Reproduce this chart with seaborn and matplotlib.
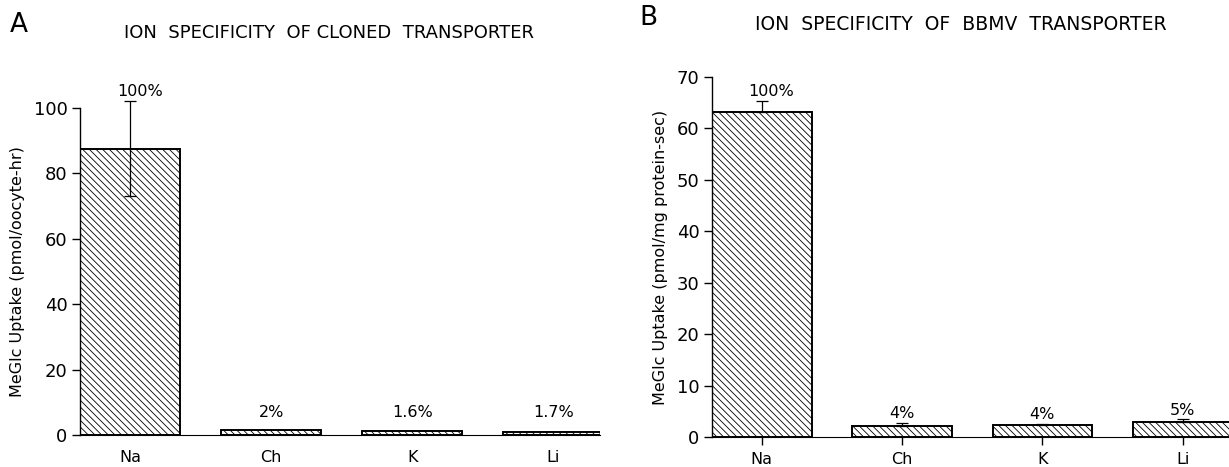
import matplotlib
matplotlib.use("Agg")
import matplotlib.pyplot as plt
import seaborn as sns
import pandas as pd

sns.set_theme(style="white")
plt.rcParams['font.family'] = ['DejaVu Sans']
plt.rcParams['hatch.linewidth'] = 0.6
plt.rcParams['text.color'] = 'black'
plt.rcParams['axes.labelcolor'] = 'black'
plt.rcParams['xtick.color'] = 'black'
plt.rcParams['ytick.color'] = 'black'
plt.rcParams['axes.edgecolor'] = 'black'

ions = ["Na", "Ch", "K", "Li"]
cloned_uptake = [87.5, 1.5, 1.1, 0.9]
cloned_err = [14.5, 0.0, 0.0, 0.0]
cloned_pct = ["100%", "2%", "1.6%", "1.7%"]

bbmv_uptake = [63.2, 2.1, 2.3, 3.0]
bbmv_err = [2.2, 0.7, 0.3, 0.5]
bbmv_pct = ["100%", "4%", "4%", "5%"]

fig = plt.figure(figsize=(12.29, 4.67), dpi=100)
axA = fig.add_axes([0.0651, 0.0685, 0.4231, 0.7002])
axB = fig.add_axes([0.5793, 0.0642, 0.4207, 0.7709])

def draw(ax, vals, errs, pcts, ymax, yticks, ylabel, pct_off, pct_min, lower_err, xticks_on):
    df = pd.DataFrame({"ion": ions, "uptake": vals})
    sns.barplot(data=df, x="ion", y="uptake", ax=ax, color="white", saturation=1,
                edgecolor="black", linewidth=1.4, width=0.71, hatch="\\\\\\\\\\")
    xs = list(range(len(ions)))
    for x, v, e in zip(xs, vals, errs):
        if e > 0:
            lo = e if lower_err else 0
            ax.errorbar([x], [v], yerr=[[lo], [e]], fmt="none", ecolor="black",
                        elinewidth=0.9, capsize=4.5, capthick=0.9, clip_on=False, zorder=5)
    for x, v, e, p in zip(xs, vals, errs, pcts):
        ax.text(x + 0.07 if x == 0 else x, max(v + e + pct_off, pct_min), p,
                ha="center", va="center", fontsize=11.5, clip_on=False)
    ax.set_ylim(0, ymax)
    ax.set_xlim(-0.355, 3.33)
    ax.set_yticks(yticks)
    ax.set_yticklabels([str(t) for t in yticks], fontsize=13)
    ax.set_xlabel("")
    ax.set_ylabel(ylabel, fontsize=11.5, labelpad=6)
    sns.despine(ax=ax)
    ax.spines["left"].set_linewidth(1.0)
    ax.spines["bottom"].set_linewidth(0.8)
    ax.tick_params(axis="y", which="both", left=True, length=6, width=1.0, pad=3, direction="out")
    if xticks_on:
        ax.tick_params(axis="x", bottom=True, length=6, width=1.0, pad=5, direction="out",
                       labelsize=11.5)
    else:
        ax.tick_params(axis="x", bottom=False, length=0, pad=11, labelsize=11.5)
    ax.set_facecolor("white")

draw(axA, cloned_uptake, cloned_err, cloned_pct, 100, [0, 20, 40, 60, 80, 100],
     "MeGlc Uptake (pmol/oocyte-hr)", 3.0, 7.0, True, False)
draw(axB, bbmv_uptake, bbmv_err, bbmv_pct, 70, [0, 10, 20, 30, 40, 50, 60, 70],
     "MeGlc Uptake (pmol/mg protein-sec)", 1.7, 0.0, False, True)

fig.text(19 / 1229, 1 - 25 / 467, "A", fontsize=19, ha="center", va="center")
fig.text(329 / 1229, 1 - 33 / 467, "ION  SPECIFICITY  OF CLONED  TRANSPORTER",
         fontsize=13, ha="center", va="center")
fig.text(648 / 1229, 1 - 18 / 467, "B", fontsize=19, ha="center", va="center")
fig.text(961 / 1229, 1 - 25 / 467, "ION  SPECIFICITY  OF  BBMV  TRANSPORTER",
         fontsize=13.5, ha="center", va="center")

fig.savefig("out.png", dpi=100, facecolor="white")
